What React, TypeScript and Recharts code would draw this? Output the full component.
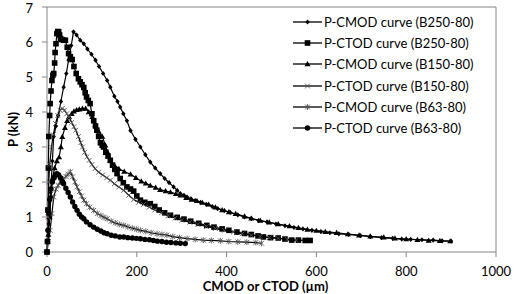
import React from "react";
import {
  LineChart,
  Line,
  XAxis,
  YAxis,
  Legend,
  ReferenceLine,
  Label,
} from "recharts";

// [CMOD or CTOD (µm), P (kN)]
const cmodB250: [number, number][] = [
  [0, 0], [4, 0.8], [8, 1.7], [12, 2.6], [15, 3.3], [20, 3.6], [25, 3.9], [31, 4.3],
  [37, 4.71], [43, 5.1], [48, 5.48], [54, 5.9], [59, 6.29], [66, 6.2], [74, 6.05],
  [82, 5.95], [90, 5.8], [99, 5.65], [108, 5.48], [116, 5.3], [125, 5.1], [134, 4.9],
  [141, 4.71], [150, 4.45], [157, 4.3], [163, 4.14], [170, 3.95], [178, 3.75],
  [186, 3.47], [197, 3.22], [208, 3.0], [219, 2.78], [230, 2.57], [241, 2.4],
  [252, 2.24], [262, 2.1], [272, 1.98], [282, 1.86], [290, 1.76], [297, 1.67],
  [305, 1.62], [312, 1.57], [320, 1.52], [330, 1.47], [342, 1.42], [355, 1.36],
  [368, 1.3], [380, 1.24], [395, 1.18], [408, 1.13], [425, 1.06], [440, 1.0],
  [455, 0.96], [471, 0.9], [490, 0.86], [510, 0.8], [530, 0.75], [550, 0.7],
  [570, 0.66], [590, 0.62], [610, 0.58], [630, 0.55], [650, 0.52], [672, 0.5],
  [698, 0.47], [720, 0.44], [745, 0.41], [770, 0.39], [790, 0.37], [810, 0.36],
  [835, 0.35], [860, 0.34], [880, 0.32], [900, 0.31],
];

const ctodB250: [number, number][] = [
  [0, 0], [1, 0.3], [2, 1.2], [3, 2.4], [4, 3.3], [6, 3.9], [7, 4.24], [9, 4.6],
  [11, 4.9], [13, 5.05], [15, 5.1], [17, 5.4], [18, 5.7], [20, 5.95], [22, 6.24],
  [24, 6.3], [26, 6.29], [28, 6.2], [30, 6.1], [33, 6.07], [37, 6.05], [41, 6.05],
  [45, 5.85], [48, 5.67], [52, 5.58], [56, 5.5], [60, 5.3], [65, 5.1], [70, 4.95],
  [74, 4.86], [78, 4.78], [82, 4.7], [85, 4.55], [88, 4.43], [92, 4.33], [96, 4.24],
  [100, 3.95], [104, 3.75], [108, 3.6], [111, 3.48], [115, 3.3], [119, 3.12],
  [123, 3.05], [126, 3.0], [131, 2.85], [136, 2.74], [141, 2.62], [146, 2.48],
  [151, 2.36], [156, 2.24], [163, 2.1], [170, 1.98], [178, 1.86], [186, 1.8],
  [193, 1.74], [200, 1.6], [208, 1.48], [218, 1.42], [230, 1.38], [240, 1.3],
  [250, 1.2], [262, 1.12], [275, 1.05], [290, 0.99], [305, 0.94], [320, 0.88],
  [338, 0.82], [356, 0.76], [372, 0.71], [390, 0.66], [405, 0.62], [423, 0.57],
  [440, 0.53], [455, 0.5], [470, 0.46], [482, 0.43], [498, 0.41], [515, 0.4],
  [530, 0.37], [545, 0.34], [560, 0.34], [575, 0.33], [586, 0.33],
];

const cmodB150: [number, number][] = [
  [0, 0], [3, 0.5], [6, 1.0], [9, 1.6], [12, 2.1], [17, 2.4], [22, 2.6], [27, 2.71],
  [31, 3.0], [34, 3.29], [40, 3.55], [45, 3.75], [49, 3.86], [55, 3.95], [60, 4.02],
  [66, 4.06], [72, 4.08], [79, 4.1], [86, 4.1], [93, 4.0], [101, 3.86], [108, 3.65],
  [115, 3.45], [123, 3.3], [130, 3.05], [135, 2.85], [141, 2.62], [150, 2.48],
  [160, 2.38], [172, 2.3], [186, 2.22], [198, 2.12], [210, 2.02], [220, 1.96],
  [230, 1.9], [242, 1.84], [252, 1.78], [264, 1.74], [275, 1.71], [287, 1.66],
  [297, 1.62], [310, 1.55], [322, 1.5], [334, 1.46], [346, 1.41], [360, 1.36],
  [375, 1.28], [390, 1.2], [405, 1.14], [420, 1.09], [440, 1.02], [455, 0.96],
  [475, 0.9], [495, 0.85], [515, 0.8], [540, 0.74], [560, 0.69], [580, 0.64],
  [600, 0.61], [620, 0.58], [645, 0.55], [670, 0.51], [695, 0.48], [720, 0.45],
  [750, 0.42], [775, 0.39], [800, 0.37], [825, 0.35], [850, 0.33], [875, 0.32],
  [898, 0.31],
];

const ctodB150: [number, number][] = [
  [0, 0], [2, 1.0], [4, 2.0], [6, 2.5], [10, 3.0], [14, 3.35], [19, 3.67], [24, 3.9],
  [29, 4.05], [34, 4.1], [39, 4.05], [44, 3.95], [49, 3.86], [55, 3.7], [60, 3.58],
  [64, 3.48], [70, 3.3], [75, 3.12], [79, 3.0], [84, 2.85], [89, 2.72], [94, 2.62],
  [100, 2.5], [107, 2.38], [115, 2.28], [124, 2.2], [133, 2.12], [141, 2.05],
  [150, 1.95], [160, 1.86], [171, 1.76], [182, 1.62], [193, 1.5], [204, 1.42],
  [215, 1.36], [228, 1.28], [240, 1.2], [255, 1.12], [270, 1.04], [285, 0.97],
  [300, 0.91], [318, 0.85], [336, 0.79], [355, 0.73], [375, 0.67], [395, 0.62],
  [415, 0.57], [435, 0.52], [455, 0.48], [475, 0.44], [495, 0.41], [515, 0.39],
  [535, 0.36], [555, 0.34],
];

const cmodB63: [number, number][] = [
  [0, 0], [3, 0.3], [7, 0.62], [11, 1.1], [15, 1.57], [20, 1.8], [25, 1.9], [30, 2.0],
  [36, 2.08], [42, 2.16], [47, 2.22], [52, 2.29], [57, 2.15], [62, 2.0], [67, 1.86],
  [72, 1.72], [77, 1.6], [82, 1.48], [88, 1.38], [95, 1.28], [104, 1.19], [112, 1.1],
  [120, 1.04], [127, 0.99], [134, 0.95], [143, 0.88], [152, 0.83], [161, 0.79],
  [171, 0.76], [180, 0.72], [190, 0.68], [199, 0.65], [208, 0.62], [220, 0.59],
  [232, 0.55], [245, 0.52], [256, 0.5], [267, 0.48], [280, 0.44], [295, 0.41],
  [312, 0.38], [330, 0.36], [348, 0.34], [366, 0.33], [386, 0.32], [405, 0.3],
  [425, 0.29], [445, 0.28], [465, 0.27], [478, 0.25],
];

const ctodB63: [number, number][] = [
  [0, 0], [1, 0.3], [2, 0.62], [4, 1.1], [6, 1.5], [9, 1.8], [12, 2.0], [16, 2.12],
  [19, 2.2], [22, 2.24], [26, 2.2], [30, 2.12], [34, 2.02], [37, 1.95], [42, 1.82],
  [47, 1.7], [52, 1.57], [57, 1.43], [62, 1.3], [67, 1.19], [72, 1.08], [77, 1.0],
  [82, 0.95], [88, 0.86], [96, 0.78], [104, 0.71], [112, 0.65], [120, 0.6],
  [127, 0.55], [134, 0.52], [143, 0.48], [152, 0.46], [162, 0.43], [171, 0.43],
  [180, 0.41], [190, 0.4], [199, 0.39], [208, 0.38], [218, 0.36], [228, 0.35],
  [237, 0.33], [246, 0.31], [256, 0.3], [266, 0.28], [276, 0.27], [287, 0.26],
  [297, 0.25], [308, 0.24],
];

const xTicks = [0, 200, 400, 600, 800, 1000];
const yTicks = [0, 1, 2, 3, 4, 5, 6, 7];

type MarkerKind = "diamond" | "square" | "triangle" | "cross" | "star" | "circle";

const series: { name: string; points: [number, number][]; marker: MarkerKind }[] = [
  { name: "P-CMOD curve (B250-80)", points: cmodB250, marker: "diamond" },
  { name: "P-CTOD curve (B250-80)", points: ctodB250, marker: "square" },
  { name: "P-CMOD curve (B150-80)", points: cmodB150, marker: "triangle" },
  { name: "P-CTOD curve (B150-80)", points: ctodB150, marker: "cross" },
  { name: "P-CMOD curve (B63-80)", points: cmodB63, marker: "star" },
  { name: "P-CTOD curve (B63-80)", points: ctodB63, marker: "circle" },
];

const FONT = "Lato, 'Open Sans', sans-serif";

function Marker({ kind, cx, cy }: { kind: MarkerKind; cx: number; cy: number }) {
  switch (kind) {
    case "diamond":
      return (
        <polygon
          points={`${cx},${cy - 2.6} ${cx + 2.2},${cy} ${cx},${cy + 2.6} ${cx - 2.2},${cy}`}
          fill="#000"
        />
      );
    case "square":
      return <rect x={cx - 2.8} y={cy - 2.8} width={5.6} height={5.6} fill="#000" />;
    case "triangle":
      return (
        <polygon
          points={`${cx},${cy - 3} ${cx + 3},${cy + 2.2} ${cx - 3},${cy + 2.2}`}
          fill="#000"
        />
      );
    case "cross":
      return (
        <path
          d={`M${cx - 2.4},${cy - 2.4}L${cx + 2.4},${cy + 2.4}M${cx - 2.4},${cy + 2.4}L${cx + 2.4},${cy - 2.4}`}
          stroke="#555"
          strokeWidth={0.9}
        />
      );
    case "star":
      return (
        <path
          d={`M${cx - 2.4},${cy - 2.4}L${cx + 2.4},${cy + 2.4}M${cx - 2.4},${cy + 2.4}L${cx + 2.4},${cy - 2.4}M${cx},${cy - 3}L${cx},${cy + 3}`}
          stroke="#555"
          strokeWidth={0.9}
        />
      );
    default:
      return <circle cx={cx} cy={cy} r={2.7} fill="#000" />;
  }
}

const dotFor = (kind: MarkerKind) => (props: any) => {
  const { cx, cy, index } = props;
  if (cx == null || cy == null) return <g key={index} />;
  return (
    <g key={`${kind}-${index}`}>
      <Marker kind={kind} cx={cx} cy={cy} />
    </g>
  );
};

function ChartLegend() {
  return (
    <div style={{ fontFamily: FONT, fontSize: 13, color: "#000" }}>
      {series.map((s) => (
        <div key={s.name} style={{ display: "flex", alignItems: "center", height: 21.3 }}>
          <svg width={31} height={12} style={{ marginRight: 1 }}>
            <line x1={1} y1={6} x2={30} y2={6} stroke="#000" strokeWidth={1.3} />
            <Marker kind={s.marker} cx={15.5} cy={6} />
          </svg>
          <span style={{ whiteSpace: "nowrap" }}>{s.name}</span>
        </div>
      ))}
    </div>
  );
}

export default function App() {
  return (
    <div style={{ position: "absolute", left: 0, top: 0, background: "#fff" }}>
      <LineChart width={523} height={294} margin={{ top: 7, right: 27, bottom: 0, left: 0 }}>
        <XAxis
          dataKey="x"
          type="number"
          domain={[0, 1000]}
          ticks={xTicks}
          allowDuplicatedCategory={false}
          height={42}
          stroke="#868686"
          tickSize={5}
          tickMargin={10}
          tick={{ fontSize: 13, fill: "#000", fontFamily: FONT }}
        >
          <Label
            value="CMOD or CTOD (µm)"
            position="insideBottom"
            offset={3}
            dx={-6}
            style={{ fontSize: 13, fontWeight: 700, fill: "#000", fontFamily: FONT }}
          />
        </XAxis>
        <YAxis
          dataKey="p"
          type="number"
          domain={[0, 7]}
          ticks={yTicks}
          width={47}
          stroke="#868686"
          tickSize={5}
          tickMargin={9}
          tick={{ fontSize: 13, fill: "#000", fontFamily: FONT }}
        >
          <Label
            value="P (kN)"
            angle={-90}
            position="insideLeft"
            offset={13}
            style={{ fontSize: 13, fontWeight: 700, fill: "#000", fontFamily: FONT, textAnchor: "middle" }}
          />
        </YAxis>
        <ReferenceLine y={7} stroke="#868686" />
        <ReferenceLine x={1000} stroke="#868686" />
        <Legend
          layout="vertical"
          align="center"
          verticalAlign="middle"
          wrapperStyle={{ top: 11, left: 292, width: 200 }}
          content={() => <ChartLegend />}
        />
        {series.map((s) => (
          <Line
            key={s.name}
            name={s.name}
            data={s.points.map(([x, p]) => ({ x, p }))}
            dataKey="p"
            type="linear"
            stroke="#000"
            strokeWidth={1.2}
            dot={dotFor(s.marker)}
            activeDot={false}
            isAnimationActive={false}
          />
        ))}
      </LineChart>
    </div>
  );
}
